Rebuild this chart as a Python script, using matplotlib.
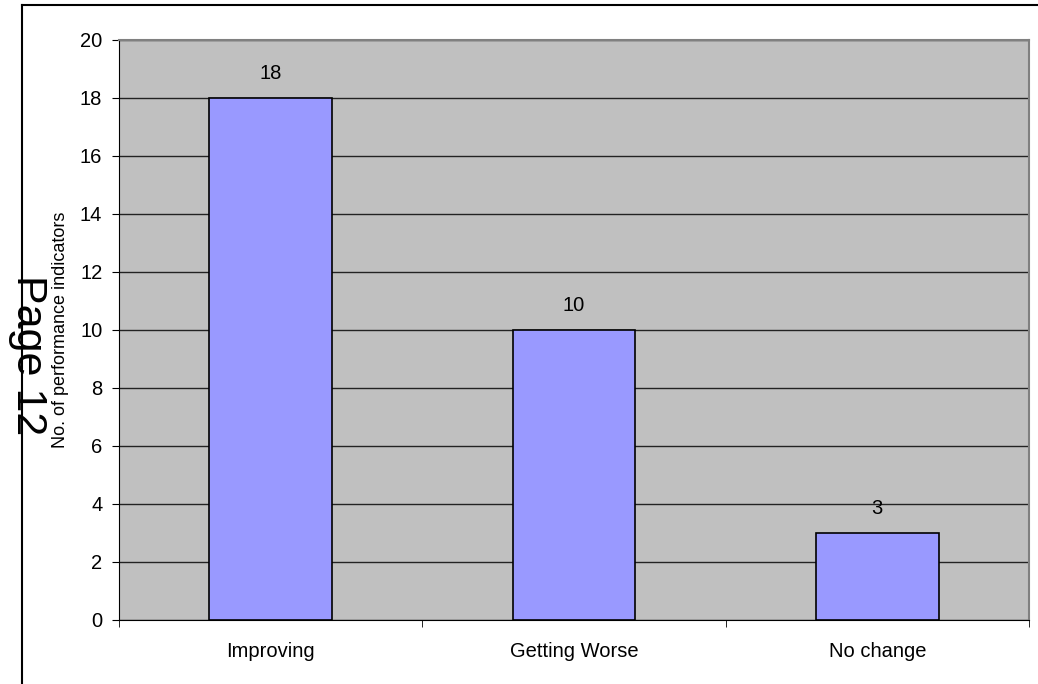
import matplotlib.pyplot as plt
from matplotlib.lines import Line2D
from matplotlib.ticker import MultipleLocator

categories = ['Improving', 'Getting Worse', 'No change']
counts = [18, 10, 3]

plt.rcParams['font.family'] = ['Liberation Sans', 'DejaVu Sans']

fig = plt.figure(figsize=(10.38, 6.84), dpi=100)
ax = fig.add_axes([0.1146, 0.0936, 0.8767, 0.848])

ax.set_facecolor('#C0C0C0')
x = list(range(len(categories)))
bars = ax.bar(x, counts, width=0.405, color='#9999FF', edgecolor='black', linewidth=1.2, zorder=3)

for b, v in zip(bars, counts):
    ax.annotate(str(v), (b.get_x() + b.get_width() / 2, v), xytext=(0, 17.5),
                textcoords='offset points', ha='center', va='center', fontsize=14.5)

ax.set_xlim(-0.5, len(categories) - 0.5)
ax.set_ylim(0, 20)
ax.yaxis.set_major_locator(MultipleLocator(2))
ax.grid(axis='y', color='#222222', linewidth=1.0, zorder=1)
ax.set_axisbelow(True)

ax.set_xticks(x)
ax.set_xticklabels(categories, fontsize=14.5)
ax.set_xticks([i - 0.5 for i in range(len(categories) + 1)], minor=True)
ax.tick_params(axis='x', which='major', length=0, pad=16)
ax.tick_params(axis='x', which='minor', length=5, direction='out', color='black')
ax.tick_params(axis='y', length=5, direction='out', labelsize=14.5, pad=7)

for side in ['left', 'bottom']:
    ax.spines[side].set_color('black')
for side in ['top', 'right']:
    ax.spines[side].set_color('#808080')
    ax.spines[side].set_linewidth(1.5)

ax.set_ylabel('No. of performance indicators', fontsize=13, labelpad=8)

fig.text(0.027, 0.481, 'Page 12', rotation=-90, fontsize=31, ha='center', va='center')

# outer frame (top and left edges visible)
fig.add_artist(Line2D([0.0212, 0.0212], [0.0, 0.9927], color='black', linewidth=1.5))
fig.add_artist(Line2D([0.0212, 1.0], [0.9927, 0.9927], color='black', linewidth=1.5))

fig.savefig('out.png', dpi=100)
